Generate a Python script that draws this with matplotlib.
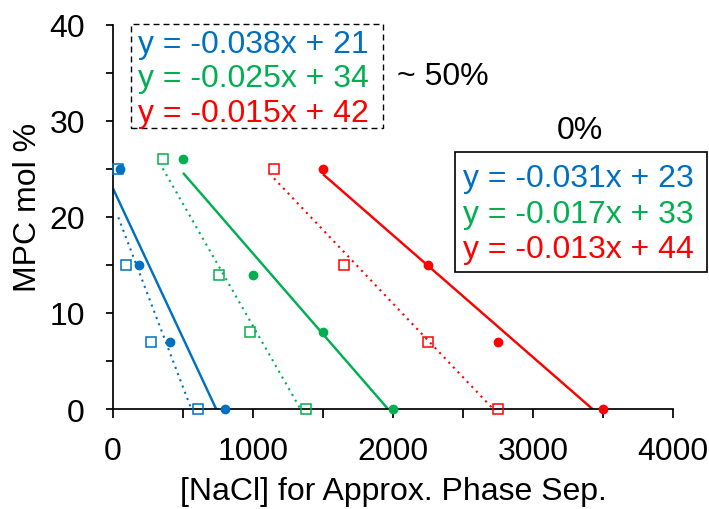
import numpy as np
import matplotlib
matplotlib.use("Agg")
import matplotlib.pyplot as plt
from matplotlib.ticker import MultipleLocator
from matplotlib.patches import Rectangle

plt.rcParams["font.family"] = ["Liberation Sans", "DejaVu Sans"]

# MPC mol % levels and the NaCl concentration at approximate phase separation
mpc_blue = [25, 15, 7, 0]
nacl_blue_0 = [50, 183, 407, 800]
nacl_blue_50 = [38, 93, 269, 610]

mpc_green = [26, 14, 8, 0]
nacl_green_0 = [500, 1000, 1500, 2000]
nacl_green_50 = [355, 757, 981, 1379]

mpc_red = [25, 15, 7, 0]
nacl_red_0 = [1500, 2250, 2750, 3500]
nacl_red_50 = [1150, 1650, 2250, 2750]

label_0 = "0%"
label_50 = "~ 50%"
x_title = "[NaCl] for Approx. Phase Sep."
y_title = "MPC mol %"

BLUE, GREEN, RED = "#0070C0", "#00B050", "#FF0000"

series = [
    # (x, y, colour, filled, trendline starts at)
    (nacl_blue_50, mpc_blue, BLUE, False, None),
    (nacl_green_50, mpc_green, GREEN, False, None),
    (nacl_red_50, mpc_red, RED, False, None),
    (nacl_blue_0, mpc_blue, BLUE, True, 0),
    (nacl_green_0, mpc_green, GREEN, True, None),
    (nacl_red_0, mpc_red, RED, True, None),
]

W, H = 709, 510
fig = plt.figure(figsize=(W / 100, H / 100), dpi=100)


def fx(px):
    return px / W


def fy(py):
    return 1 - py / H


ax = fig.add_axes([fx(113), fy(410), fx(673) - fx(113), fy(26) - fy(410)])
ax.set_xlim(0, 4000)
ax.set_ylim(0, 40)

fits = {}
for x, y, col, filled, start in series:
    x = np.asarray(x, float)
    y = np.asarray(y, float)
    m, b = np.polyfit(x, y, 1)
    fits[(col, filled)] = (m, b)
    x0 = x.min() if start is None else start
    xs = np.array([x0, x.max()])
    if filled:
        ax.plot(xs, m * xs + b, color=col, lw=1.75, solid_capstyle="butt", zorder=2)
        ax.plot(x, y, "o", ms=6, color=col, mec=col, zorder=4, clip_on=False)
    else:
        ax.plot(xs, m * xs + b, color=col, lw=1.5, linestyle=(0, (1, 2.2)), zorder=2)
        ax.plot(x, y, "s", ms=6.8, mfc="none", mec=col, mew=1.1, zorder=3,
                clip_on=False)

for side in ("top", "right"):
    ax.spines[side].set_visible(False)
for side in ("left", "bottom"):
    ax.spines[side].set_linewidth(1.25)

ax.xaxis.set_major_locator(MultipleLocator(1000))
ax.xaxis.set_minor_locator(MultipleLocator(500))
ax.yaxis.set_major_locator(MultipleLocator(10))
ax.yaxis.set_minor_locator(MultipleLocator(5))
ax.tick_params(axis="x", which="both", direction="out", length=6.5, width=1.25)
ax.tick_params(axis="y", which="both", direction="out", length=5.3, width=1.25)
ax.tick_params(axis="x", which="major", labelsize=23, pad=13)
ax.tick_params(axis="y", which="major", labelsize=23, pad=15)

fig.text(fx(393), fy(500), x_title, fontsize=23, ha="center", va="baseline")
fig.text(fx(36), fy(207), y_title, fontsize=23, rotation=90,
         rotation_mode="anchor", ha="center", va="baseline")


def eq_text(m, b):
    return f"y = {m:.3f}x + {b:.0f}"


# ~50% equations in a dashed box
fig.add_artist(Rectangle((fx(131), fy(129)), fx(383) - fx(131), fy(25) - fy(129),
                         transform=fig.transFigure, fill=False, ec="black",
                         lw=1.0, ls=(0, (4.3, 2.9))))
for i, col in enumerate((BLUE, GREEN, RED)):
    m, b = fits[(col, False)]
    fig.text(fx(138), fy(53 + 34.5 * i), eq_text(m, b), color=col, fontsize=23,
             ha="left", va="baseline")
fig.text(fx(397), fy(85), label_50, fontsize=23, ha="left", va="baseline")

# 0% equations in a solid box
fig.add_artist(Rectangle((fx(455), fy(273)), fx(707) - fx(455), fy(153) - fy(273),
                         transform=fig.transFigure, fill=True, fc="white",
                         ec="black", lw=1.2))
for i, col in enumerate((BLUE, GREEN, RED)):
    m, b = fits[(col, True)]
    fig.text(fx(463), fy(187 + 35.7 * i), eq_text(m, b), color=col, fontsize=23,
             ha="left", va="baseline")
fig.text(fx(580), fy(139), label_0, fontsize=23, ha="center", va="baseline")

fig.savefig("out.png", dpi=100)
